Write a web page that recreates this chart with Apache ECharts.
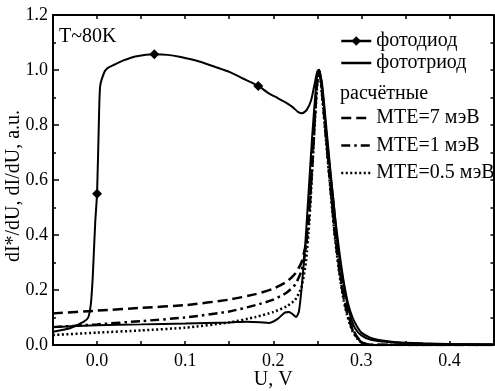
<!DOCTYPE html>
<html><head><meta charset="utf-8">
<script src="https://cdn.jsdelivr.net/npm/echarts@6/dist/echarts.min.js"></script>
<style>html,body{margin:0;padding:0;background:#fff}#c{width:495px;height:391px}</style>
</head><body><div id="c"></div>
<script>
// ---- data ----
const diodeU = [-0.05,-0.03,-0.015,-0.01,-0.007,-0.005,-0.004,-0.002,0.0,0.002,0.0035,0.008,0.012,0.02,0.03,0.045,0.065,0.08,0.095,0.115,0.135,0.15,0.165,0.175,0.183,0.195,0.205,0.213,0.222,0.228,0.233,0.238,0.243,0.247,0.25,0.252,0.255,0.26,0.265,0.2685,0.272,0.275,0.28,0.284,0.288,0.293,0.3,0.31,0.323,0.345,0.37,0.4,0.45];
const diodeY = [0.048,0.062,0.085,0.10,0.15,0.24,0.31,0.45,0.55,0.80,0.94,0.99,1.007,1.02,1.035,1.05,1.057,1.055,1.047,1.032,1.01,0.993,0.97,0.955,0.942,0.915,0.898,0.884,0.865,0.848,0.843,0.855,0.89,0.95,0.995,1.0,0.95,0.78,0.62,0.52,0.40,0.32,0.22,0.15,0.10,0.06,0.035,0.02,0.013,0.008,0.005,0.003,0.002];
const diodeMarkerU = [0.0, 0.065, 0.183];

const triodeU = [-0.05,-0.03,0.0,0.05,0.1,0.15,0.17,0.185,0.195,0.205,0.213,0.218,0.222,0.226,0.229,0.232,0.236,0.24,0.244,0.248,0.251,0.255,0.26,0.265,0.27,0.275,0.28,0.285,0.29,0.295,0.3,0.31,0.32,0.34,0.37,0.4,0.45];
const triodeY = [0.065,0.068,0.072,0.075,0.078,0.082,0.085,0.083,0.08,0.095,0.118,0.12,0.112,0.102,0.12,0.2,0.35,0.55,0.75,0.92,1.0,0.96,0.8,0.63,0.47,0.34,0.23,0.15,0.10,0.068,0.045,0.027,0.018,0.01,0.006,0.004,0.002];

const calcU = [-0.05,0.0,0.05,0.1,0.15,0.18,0.2,0.215,0.225,0.232,0.237,0.241,0.244,0.247,0.25,0.252,0.255,0.26,0.265,0.27,0.275,0.28,0.285,0.29,0.295,0.3,0.305,0.31,0.45];
const mte7Y  = [0.115,0.125,0.135,0.145,0.165,0.185,0.205,0.23,0.26,0.30,0.37,0.5,0.65,0.82,0.97,1.0,0.94,0.76,0.58,0.41,0.28,0.18,0.11,0.06,0.03,0.012,0.004,0.001,0.0];
const mte1Y  = [0.065,0.075,0.087,0.10,0.122,0.145,0.165,0.19,0.22,0.27,0.35,0.48,0.64,0.81,0.96,1.0,0.93,0.75,0.57,0.40,0.27,0.17,0.10,0.055,0.027,0.01,0.003,0.0,0.0];
const mte05Y = [0.036,0.045,0.053,0.063,0.082,0.102,0.12,0.14,0.165,0.21,0.30,0.45,0.62,0.80,0.95,1.0,0.92,0.74,0.56,0.39,0.26,0.16,0.095,0.05,0.024,0.009,0.003,0.0,0.0];

const xTickLabels = ['0.0','0.1','0.2','0.3','0.4'];
const yTickLabels = ['0.0','0.2','0.4','0.6','0.8','1.0','1.2'];
const seriesNames = ['фотодиод','фототриод','MTE=7 мэВ','MTE=1 мэВ','MTE=0.5 мэВ'];

// ---- build ----
const FONT = 'Liberation Serif';
const zip = (xs, ys) => xs.map((x, i) => [x, ys[i]]);
const diodeData = diodeU.map((u, i) => diodeMarkerU.includes(u) ? [u, diodeY[i]] : {value: [u, diodeY[i]], symbol: 'none'});
const noSym = name => ({name: name, itemStyle: {opacity: 0}});

const chart = echarts.init(document.getElementById('c'), null, {renderer: 'canvas'});
const axisLine = {show: true, onZero: false, lineStyle: {color: '#000', width: 2}};
const xAxisBase = {type: 'value', min: -0.05, max: 0.45, interval: 0.05, splitLine: {show: false}, axisLine: axisLine};
const yAxisBase = {type: 'value', min: 0, max: 1.2, interval: 0.2, splitLine: {show: false}, axisLine: axisLine};

chart.setOption({
  animation: false,
  backgroundColor: '#fff',
  grid: {left: 53, right: 1.5, top: 15, bottom: 46, containLabel: false, outerBoundsMode: 'none'},
  xAxis: [
    Object.assign({}, xAxisBase, {
      position: 'bottom', name: 'U, V', nameLocation: 'middle', nameGap: 25, nameMoveOverlap: false,
      nameTextStyle: {fontFamily: FONT, fontSize: 20, color: '#000'},
      axisTick: {show: true, inside: true, length: 4, lineStyle: {color: '#000', width: 1.5}},
      axisLabel: {fontFamily: FONT, fontSize: 18, color: '#000', margin: 7,
        formatter: v => { const k = Math.round(v * 20); return (k % 2 === 0) ? xTickLabels[k / 2] || '' : ''; }}
    }),
    Object.assign({}, xAxisBase, {
      position: 'top',
      axisTick: {show: true, inside: true, length: 4, lineStyle: {color: '#000', width: 1.5}},
      axisLabel: {show: false}
    })
  ],
  yAxis: [
    Object.assign({}, yAxisBase, {
      position: 'left', name: 'dI*/dU, dI/dU, a.u.', nameLocation: 'middle', nameGap: 29, nameMoveOverlap: false,
      nameTextStyle: {fontFamily: FONT, fontSize: 20, color: '#000', padding: [0, 12, 0, 0]},
      axisTick: {show: true, inside: true, length: 6, lineStyle: {color: '#000', width: 1.5}},
      minorTick: {show: true, splitNumber: 2, length: 3, lineStyle: {color: '#000', width: 1.5}},
      axisLabel: {fontFamily: FONT, fontSize: 18, color: '#000', margin: 5,
        formatter: v => yTickLabels[Math.round(v * 5)]}
    }),
    Object.assign({}, yAxisBase, {
      position: 'right',
      axisTick: {show: true, inside: true, length: 3, lineStyle: {color: '#000', width: 1.5}},
      minorTick: {show: true, splitNumber: 2, length: 3, lineStyle: {color: '#000', width: 1.5}},
      axisLabel: {show: false}
    })
  ],
  legend: [
    {data: [seriesNames[0], noSym(seriesNames[1])], orient: 'vertical', left: 340, top: 31, padding: 0,
     itemWidth: 30, itemHeight: 12, itemGap: 2, selectedMode: false,
     lineStyle: {width: 2.5},
     textStyle: {fontFamily: FONT, fontSize: 20, color: '#000', lineHeight: 20}},
    {data: [noSym(seriesNames[2]), noSym(seriesNames[3]), noSym(seriesNames[4])], orient: 'vertical', left: 340, top: 108, padding: 0,
     itemWidth: 30, itemHeight: 12, itemGap: 7.5, selectedMode: false,
     lineStyle: {width: 2.5},
     textStyle: {fontFamily: FONT, fontSize: 20, color: '#000', lineHeight: 20}}
  ],
  graphic: [
    {type: 'text', left: 59, top: 27, style: {text: 'T~80K', font: '20px "Liberation Serif"', fill: '#000'}},
    {type: 'text', left: 340, top: 84, style: {text: 'расчётные', font: '20px "Liberation Serif"', fill: '#000'}}
  ],
  series: [
    {name: seriesNames[0], type: 'line', data: diodeData, symbol: 'diamond', symbolSize: 10, smooth: 0.2,
     itemStyle: {color: '#000'}, lineStyle: {color: '#000', width: 2}, z: 5},
    {name: seriesNames[1], type: 'line', data: zip(triodeU, triodeY), symbol: 'none', smooth: 0.2,
     lineStyle: {color: '#000', width: 2}, itemStyle: {color: '#000'}, z: 5},
    {name: seriesNames[2], type: 'line', data: zip(calcU, mte7Y), symbol: 'none', smooth: 0.2,
     lineStyle: {color: '#000', width: 2.5, type: [10, 5]}, itemStyle: {color: '#000'}},
    {name: seriesNames[3], type: 'line', data: zip(calcU, mte1Y), symbol: 'none', smooth: 0.2,
     lineStyle: {color: '#000', width: 2.5, type: [9, 4, 2.5, 4]}, itemStyle: {color: '#000'}},
    {name: seriesNames[4], type: 'line', data: zip(calcU, mte05Y), symbol: 'none', smooth: 0.2,
     lineStyle: {color: '#000', width: 2.5, type: [2, 2.5]}, itemStyle: {color: '#000'}}
  ]
});
</script></body></html>
